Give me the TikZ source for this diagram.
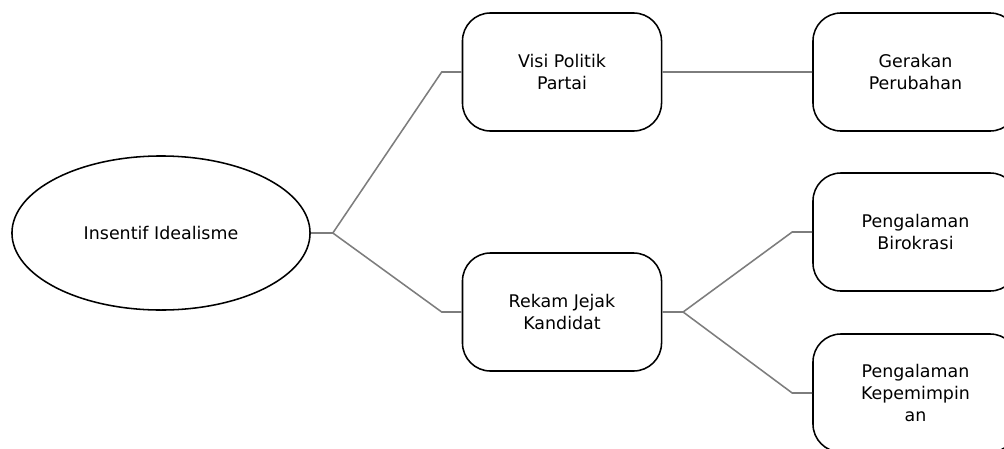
\documentclass[tikz,border=0pt]{standalone}
\usepackage{fontspec}
\setmainfont{DejaVu Sans}
\usetikzlibrary{shapes.geometric}
\definecolor{linegray}{RGB}{125,125,125}

\tikzset{
  topic/.style={draw, rounded corners=0.7cm, minimum width=4.975cm,
    minimum height=2.95cm, align=center, line width=1.1pt,
    font=\fontsize{12.4}{15.6}\selectfont},
  leaf/.style={topic, minimum width=5.125cm},
  idea/.style={draw, ellipse, minimum width=7.45cm, minimum height=3.85cm,
    inner sep=0pt, line width=1.1pt, font=\fontsize{12.4}{15.6}\selectfont},
  branch/.style={draw=linegray, line width=1.1pt}
}

\begin{document}
\begin{tikzpicture}[x=0.025cm, y=-0.025cm]
\useasboundingbox (0,0) rectangle (1004,448);
\node[idea] (ideal) at (161,233) {Insentif Idealisme};
\node[topic] (visi) at (562,72) {Visi Politik\\Partai};
\node[topic] (rekam) at (562,312) {Rekam Jejak\\Kandidat};
\node[leaf] (gerak) at (915.5,72) {Gerakan\\Perubahan};
\node[leaf] (biro) at (915.5,232) {Pengalaman\\Birokrasi};
\node[leaf] (pimpin) at (915.5,393) {Pengalaman\\Kepemimpin\\an};
% junctions and bends
\coordinate (j1) at ([xshift=0.55cm]ideal.east);
\coordinate (j2) at ([xshift=0.52cm]rekam.east);
\path[branch]
(ideal.east) -- (j1) -- ([xshift=-0.5cm]visi.west) -- (visi.west)
(j1) -- ([xshift=-0.5cm]rekam.west) -- (rekam.west)
(visi.east) -- (gerak.west)
(rekam.east) -- (j2) -- ([xshift=-0.5cm]biro.west) -- (biro.west)
(j2) -- ([xshift=-0.5cm]pimpin.west) -- (pimpin.west);
\end{tikzpicture}
\end{document}
